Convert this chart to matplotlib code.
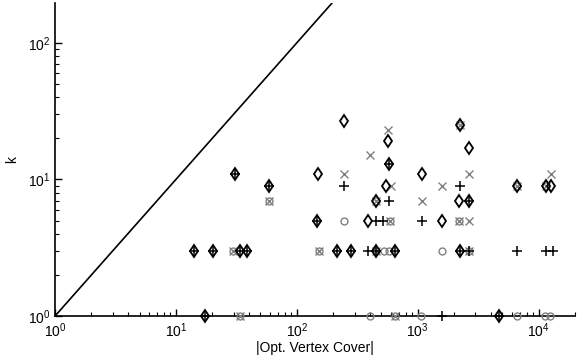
import matplotlib
matplotlib.use("Agg")
import matplotlib.pyplot as plt
from matplotlib.ticker import LogLocator, NullFormatter

plt.rcParams['font.family'] = ['Liberation Sans', 'DejaVu Sans']
plt.rcParams['mathtext.fontset'] = 'custom'
plt.rcParams['mathtext.rm'] = 'Liberation Sans'
plt.rcParams['mathtext.it'] = 'Liberation Sans:italic'

# reference line k = |Opt. Vertex Cover|
line_x = [1, 200]

# black diamonds
dia_x = [14.1, 17.4, 20.3, 30.7, 34.2, 38.4, 59, 150, 146, 213, 246, 278, 388, 455, 448,
         568, 580, 544, 644, 1094, 1600, 2223, 2196, 2223, 2655, 2655, 4670, 6620, 11580, 12730]
dia_k = [3, 1, 3, 11, 3, 3, 9, 11, 5, 3, 27, 3, 5, 7, 3,
         19, 13, 9, 3, 11, 5, 25, 7, 3, 17, 7, 1, 9, 9, 9]

# black pluses
plus_x = [14.1, 17.4, 20.3, 30.7, 34.2, 38.4, 59, 146, 213, 278, 448, 580, 644, 2223, 2655, 4670,
          246, 388, 450, 517, 580, 1094, 1578, 2223, 2655, 6620, 11430, 13130]
plus_k = [3, 1, 3, 11, 3, 3, 9, 5, 3, 3, 3, 13, 3, 3, 7, 1,
          9, 3, 5, 5, 7, 5, 1, 9, 3, 3, 3, 3]

# gray crosses
cross_x = [246, 406, 568, 598, 1094, 1600, 2655, 2655, 12730,
           29.8, 33.8, 59, 153, 455, 587, 646, 2196, 2223, 2655, 6620, 11580, 455]
cross_k = [11, 15, 23, 9, 7, 9, 11, 5, 11,
           3, 1, 7, 3, 7, 5, 1, 5, 25, 3, 9, 9, 3]

# gray circles
circ_x = [246, 404, 531, 575, 1069, 1600, 6560, 11200, 12400,
          29.8, 33.8, 59, 153, 455, 587, 646, 2196, 2223, 2655, 6620, 11580, 455]
circ_k = [5, 1, 3, 3, 1, 3, 1, 1, 1,
          3, 1, 7, 3, 7, 5, 1, 5, 25, 3, 9, 9, 3]

fig = plt.figure(figsize=(5.85, 3.6), dpi=100)
ax = fig.add_axes([0.094, 0.122, 0.889, 0.870])

ax.plot(line_x, line_x, color='black', lw=1.2, zorder=2)

gray = '#808080'
ax.plot(circ_x, circ_k, ls='none', marker='o', ms=5, mfc='none', mec=gray, mew=1.0, zorder=3, clip_on=False)
ax.plot(cross_x, cross_k, ls='none', marker='x', ms=5.5, mec=gray, mew=1.0, zorder=3, clip_on=False)
ax.plot(dia_x, dia_k, ls='none', marker='d', ms=6, mfc='none', mec='black', mew=1.3, zorder=4, clip_on=False)
ax.plot(plus_x, plus_k, ls='none', marker='+', ms=7.5, mec='black', mew=1.1, zorder=4, clip_on=False)

ax.set_xscale('log')
ax.set_yscale('log')
ax.set_xlim(1, 2e4)
ax.set_ylim(1, 196)

for s in ['top', 'right']:
    ax.spines[s].set_visible(False)
for s in ['left', 'bottom']:
    ax.spines[s].set_linewidth(1.2)

ax.xaxis.set_major_locator(LogLocator(base=10, numticks=10))
ax.yaxis.set_major_locator(LogLocator(base=10, numticks=10))
ax.xaxis.set_minor_locator(LogLocator(base=10, subs=range(2, 10), numticks=20))
ax.yaxis.set_minor_locator(LogLocator(base=10, subs=range(2, 10), numticks=20))
ax.xaxis.set_minor_formatter(NullFormatter())
ax.yaxis.set_minor_formatter(NullFormatter())
ax.tick_params(which='major', direction='in', length=5, width=1, labelsize=10)
ax.tick_params(which='minor', direction='in', length=3, width=0.8)

ax.set_xlabel('|Opt. Vertex Cover|', fontsize=10, labelpad=1)
ax.set_ylabel('k', fontsize=10, labelpad=6)

fig.savefig('out.png', dpi=100)
